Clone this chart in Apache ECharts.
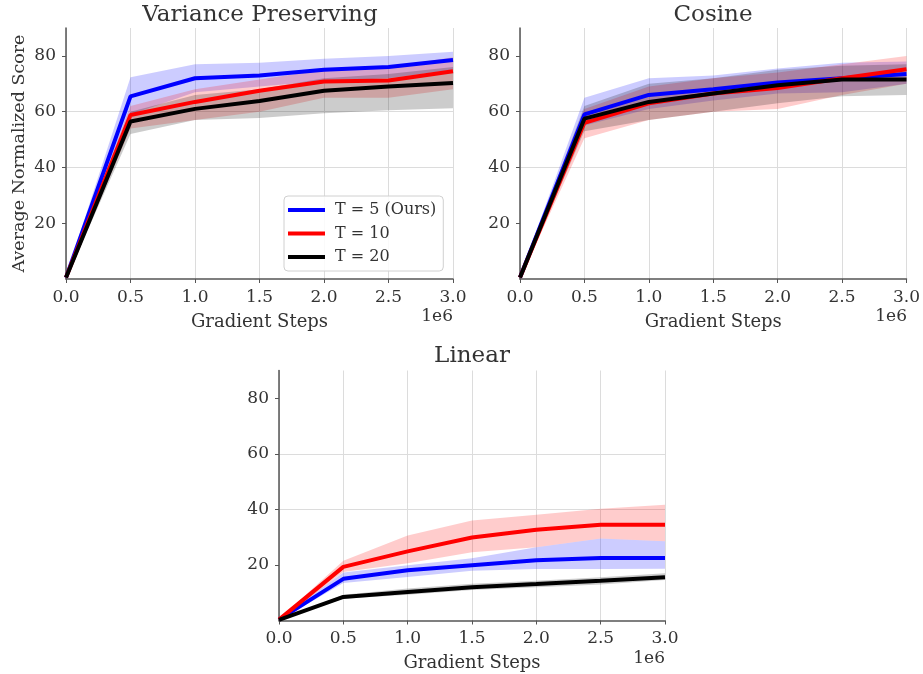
<!DOCTYPE html>
<html>
<head>
<meta charset="utf-8">
<script src="https://cdn.jsdelivr.net/npm/echarts@6/dist/echarts.min.js"></script>
<style>
  html, body { margin: 0; padding: 0; background: #fff; }
  #chart { width: 923px; height: 674px; }
</style>
</head>
<body>
<div id="chart"></div>
<script>
// ---------------- DATA ----------------
const steps = [0, 500000, 1000000, 1500000, 2000000, 2500000, 3000000];
const yTicks = [20, 40, 60, 80];
const seriesNames = ['T = 5 (Ours)', 'T = 10', 'T = 20'];
const panelTitles = ['Variance Preserving', 'Cosine', 'Linear'];

// Variance Preserving
const vpT5      = [0.5, 65.5, 72.0, 73.0, 75.0, 76.0, 78.5];
const vpT5Up    = [1.0, 72.3, 77.0, 77.5, 79.0, 80.0, 81.5];
const vpT5Lo    = [0.0, 59.0, 67.0, 69.0, 71.0, 72.0, 75.0];
const vpT10     = [0.5, 58.8, 63.5, 67.5, 70.8, 71.2, 74.5];
const vpT10Up   = [1.0, 62.0, 68.0, 71.5, 75.0, 76.0, 79.5];
const vpT10Lo   = [0.0, 54.0, 57.0, 60.0, 65.0, 65.0, 68.0];
const vpT20     = [0.5, 56.5, 61.0, 63.8, 67.5, 69.0, 70.3];
const vpT20Up   = [1.0, 60.0, 66.0, 68.0, 72.0, 73.5, 76.0];
const vpT20Lo   = [0.0, 52.0, 57.0, 57.7, 59.4, 60.5, 61.2];

// Cosine
const cosT5     = [0.5, 59.0, 66.0, 68.0, 70.5, 72.0, 73.5];
const cosT5Up   = [1.0, 65.0, 72.0, 73.0, 75.5, 77.5, 78.0];
const cosT5Lo   = [0.0, 55.0, 61.0, 64.0, 66.5, 67.0, 70.0];
const cosT10    = [0.5, 56.0, 63.0, 66.5, 68.5, 72.0, 75.2];
const cosT10Up  = [1.0, 61.0, 69.0, 72.0, 74.0, 77.0, 80.0];
const cosT10Lo  = [0.0, 50.5, 57.0, 60.0, 61.0, 66.0, 70.0];
const cosT20    = [0.5, 57.5, 63.5, 66.5, 69.5, 71.5, 71.5];
const cosT20Up  = [1.0, 62.0, 70.0, 72.0, 75.0, 76.5, 77.0];
const cosT20Lo  = [0.0, 53.0, 57.0, 60.0, 63.0, 65.5, 66.0];

// Linear
const linT5     = [0.3, 15.0, 18.1, 19.9, 21.7, 22.5, 22.5];
const linT5Up   = [0.5, 17.3, 19.9, 22.4, 26.4, 29.5, 28.5];
const linT5Lo   = [0.0, 13.5, 15.7, 17.9, 18.5, 18.5, 18.6];
const linT10    = [0.3, 19.3, 24.9, 29.9, 32.7, 34.5, 34.5];
const linT10Up  = [0.5, 21.5, 30.6, 36.0, 38.1, 40.2, 41.7];
const linT10Lo  = [0.0, 17.5, 20.6, 24.6, 26.4, 29.5, 28.5];
const linT20    = [0.2, 8.5, 10.3, 12.0, 13.1, 14.3, 15.6];
const linT20Up  = [0.3, 9.3, 11.5, 13.2, 14.3, 15.6, 17.0];
const linT20Lo  = [0.0, 7.8, 9.3, 11.0, 12.0, 13.0, 14.6];

// ---------------- STYLE ----------------
const lineColors = ['#0000ff', '#ff0000', '#000000'];
const bandColors = ['rgba(0,0,255,0.2)', 'rgba(255,0,0,0.2)', 'rgba(0,0,0,0.2)'];
const FONT = '"DejaVu Serif", serif';

const panels = [
  { mean: [vpT5, vpT10, vpT20], up: [vpT5Up, vpT10Up, vpT20Up], lo: [vpT5Lo, vpT10Lo, vpT20Lo] },
  { mean: [cosT5, cosT10, cosT20], up: [cosT5Up, cosT10Up, cosT20Up], lo: [cosT5Lo, cosT10Lo, cosT20Lo] },
  { mean: [linT5, linT10, linT20], up: [linT5Up, linT10Up, linT20Up], lo: [linT5Lo, linT10Lo, linT20Lo] }
];

const grids = [
  { left: 66, top: 28, width: 387, height: 251 },
  { left: 520, top: 28, width: 387, height: 251 },
  { left: 279, top: 370.5, width: 386, height: 250 }
];

const axisColor = '#555';
const textColor = '#333';

const xAxes = grids.map((g, i) => ({
  type: 'value', gridIndex: i, min: 0, max: 3000000, interval: 500000,
  name: 'Gradient Steps', nameLocation: 'middle', nameGap: 34,
  nameTextStyle: { fontFamily: FONT, fontSize: 18, color: textColor },
  axisLine: { show: true, lineStyle: { color: axisColor, width: 1.5 } },
  axisTick: { show: true, length: 4, lineStyle: { color: axisColor } },
  axisLabel: { fontFamily: FONT, fontSize: 17, color: textColor, margin: 10,
               formatter: v => (v / 1e6).toFixed(1) },
  splitLine: { show: true, lineStyle: { color: '#dcdcdc', width: 1 } }
}));

const yAxes = grids.map((g, i) => ({
  type: 'value', gridIndex: i, min: 0, max: 90, interval: 20,
  name: i === 0 ? 'Average Normalized Score' : '',
  nameLocation: 'middle', nameGap: 38,
  nameTextStyle: { fontFamily: FONT, fontSize: 17.5, color: textColor },
  axisLine: { show: true, lineStyle: { color: axisColor, width: 1.5 } },
  axisTick: { show: true, length: 4, lineStyle: { color: axisColor }, customValues: yTicks },
  axisLabel: { fontFamily: FONT, fontSize: 17, color: textColor, margin: 10,
               customValues: yTicks },
  splitLine: { show: true, showMinLine: false, showMaxLine: false, lineStyle: { color: '#dcdcdc', width: 1 } }
}));

// band polygon drawn through the axis scales (api.coord)
function bandSeries(gi, lo, up, color) {
  return {
    type: 'custom', xAxisIndex: gi, yAxisIndex: gi, silent: true, z: 1,
    data: steps.map((x, j) => [x, lo[j], up[j]]),
    encode: { x: 0, y: [1, 2] },
    renderItem: function (params, api) {
      if (params.dataIndex !== 0) return null;
      const pts = [];
      for (let j = 0; j < steps.length; j++) pts.push(api.coord([steps[j], up[j]]));
      for (let j = steps.length - 1; j >= 0; j--) pts.push(api.coord([steps[j], lo[j]]));
      return { type: 'polygon', shape: { points: pts }, style: { fill: color, stroke: null } };
    }
  };
}

const series = [];
panels.forEach((p, gi) => {
  for (let k = 0; k < 3; k++) series.push(bandSeries(gi, p.lo[k], p.up[k], bandColors[k]));
  for (let k = 0; k < 3; k++) {
    series.push({
      name: seriesNames[k], type: 'line', xAxisIndex: gi, yAxisIndex: gi,
      data: steps.map((x, j) => [x, p.mean[k][j]]),
      symbol: 'none', color: lineColors[k],
      itemStyle: { color: lineColors[k] },
      lineStyle: { color: lineColors[k], width: 4 },
      z: 3 + k
    });
  }
});

const graphic = [
  { type: 'text', x: 260, y: 15, style: { text: panelTitles[0], font: '23px ' + FONT, fill: textColor, align: 'center', verticalAlign: 'middle' } },
  { type: 'text', x: 713, y: 15, style: { text: panelTitles[1], font: '23px ' + FONT, fill: textColor, align: 'center', verticalAlign: 'middle' } },
  { type: 'text', x: 472, y: 356, style: { text: panelTitles[2], font: '23px ' + FONT, fill: textColor, align: 'center', verticalAlign: 'middle' } },
  { type: 'text', x: 453, y: 317, style: { text: '1e6', font: '17px ' + FONT, fill: textColor, align: 'right', verticalAlign: 'middle' } },
  { type: 'text', x: 907, y: 317, style: { text: '1e6', font: '17px ' + FONT, fill: textColor, align: 'right', verticalAlign: 'middle' } },
  { type: 'text', x: 665, y: 659, style: { text: '1e6', font: '17px ' + FONT, fill: textColor, align: 'right', verticalAlign: 'middle' } }
];

const chart = echarts.init(document.getElementById('chart'), null, { renderer: 'canvas' });
chart.setOption({
  animation: false,
  backgroundColor: '#fff',
  grid: grids,
  xAxis: xAxes,
  yAxis: yAxes,
  legend: {
    data: seriesNames.map(n => ({ name: n, icon: 'rect' })),
    orient: 'vertical', left: 284, top: 196,
    itemWidth: 37, itemHeight: 4, itemGap: 7.5,
    padding: [6, 7, 6, 4],
    backgroundColor: 'rgba(255,255,255,0.85)',
    borderColor: '#d0d0d0', borderWidth: 1, borderRadius: 4,
    textStyle: { fontFamily: FONT, fontSize: 16, color: textColor, lineHeight: 16, padding: [0, 0, 0, 5] },
    selectedMode: false
  },
  graphic: graphic,
  series: series
});
</script>
</body>
</html>
